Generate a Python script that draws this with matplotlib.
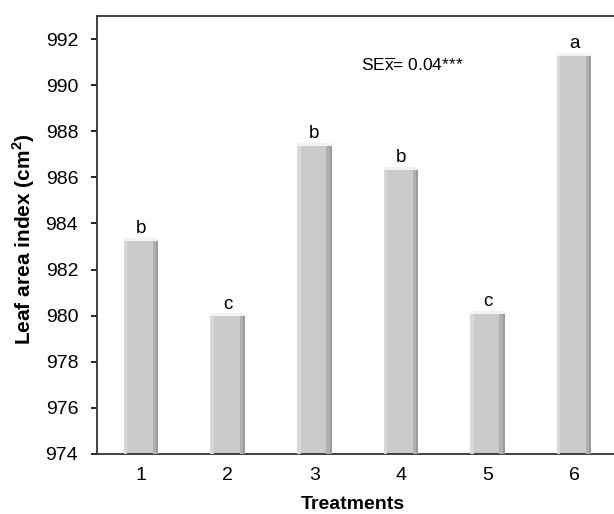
import numpy as np
import matplotlib.pyplot as plt

plt.rcParams['font.family'] = ['Liberation Sans', 'DejaVu Sans']
plt.rcParams['mathtext.fontset'] = 'custom'
plt.rcParams['mathtext.rm'] = 'Liberation Sans'
plt.rcParams['mathtext.bf'] = 'Liberation Sans:bold'

treatments = [1, 2, 3, 4, 5, 6]
lai = [983.37, 980.1, 987.5, 986.45, 980.2, 991.4]
letters = ['b', 'c', 'b', 'b', 'c', 'a']
yticks = [974, 976, 978, 980, 982, 984, 986, 988, 990, 992]
base = 974

fig = plt.figure(figsize=(6.14, 5.14), dpi=100)
ax = fig.add_axes([97/614, 60/514, 1 - 97/614, 438/514])

x = np.array(treatments)
h = np.array(lai) - base
w = 0.40
# main bar body
ax.bar(x, h, width=w, bottom=base, color='#cbcbcb', edgecolor='none', zorder=2)
# darker right-side shading
ax.bar(x + w*0.42, h, width=w*0.16, bottom=base, color='#b0b0b0', edgecolor='none', zorder=3)
ax.bar(x + w*0.47, h, width=w*0.06, bottom=base, color='#9a9a9a', edgecolor='none', zorder=3)
ax.bar(x - w*0.45, h, width=w*0.1, bottom=base, color='#d8d8d8', edgecolor='none', zorder=3)
# light top cap
ax.bar(x, 0.12, width=w, bottom=np.array(lai) - 0.12, color='#f2f2f2', edgecolor='none', zorder=4)

for xi, v, t in zip(x, lai, letters):
    ax.text(xi, v + 0.03, t, ha='center', va='bottom', fontsize=13.5, zorder=5)

ax.text(0.51, 0.888, r'SE$\overline{\mathrm{x}}$= 0.04***', transform=ax.transAxes,
        fontsize=12.5, ha='left', va='center')

ax.set_xlim(0.49, 6.46)
ax.set_ylim(974, 993)
ax.set_yticks(yticks)
ax.set_xticks(treatments)
ax.tick_params(axis='y', direction='out', length=4.5, width=1.2, labelsize=14, pad=9)
ax.tick_params(axis='x', length=0, labelsize=14, pad=9)
ax.spines['right'].set_visible(False)
for s in ['left', 'bottom', 'top']:
    ax.spines[s].set_linewidth(1.3)
    ax.spines[s].set_color('#333333')

ax.set_xlabel('Treatments', fontsize=14, fontweight='bold')
ax.xaxis.set_label_coords(0.495, -0.095)
ax.set_ylabel('Leaf area index (cm$^\\mathbf{2}$)', fontsize=15, fontweight='bold')
ax.yaxis.set_label_coords(-0.116, 0.49)

fig.savefig('out.png', dpi=100)
